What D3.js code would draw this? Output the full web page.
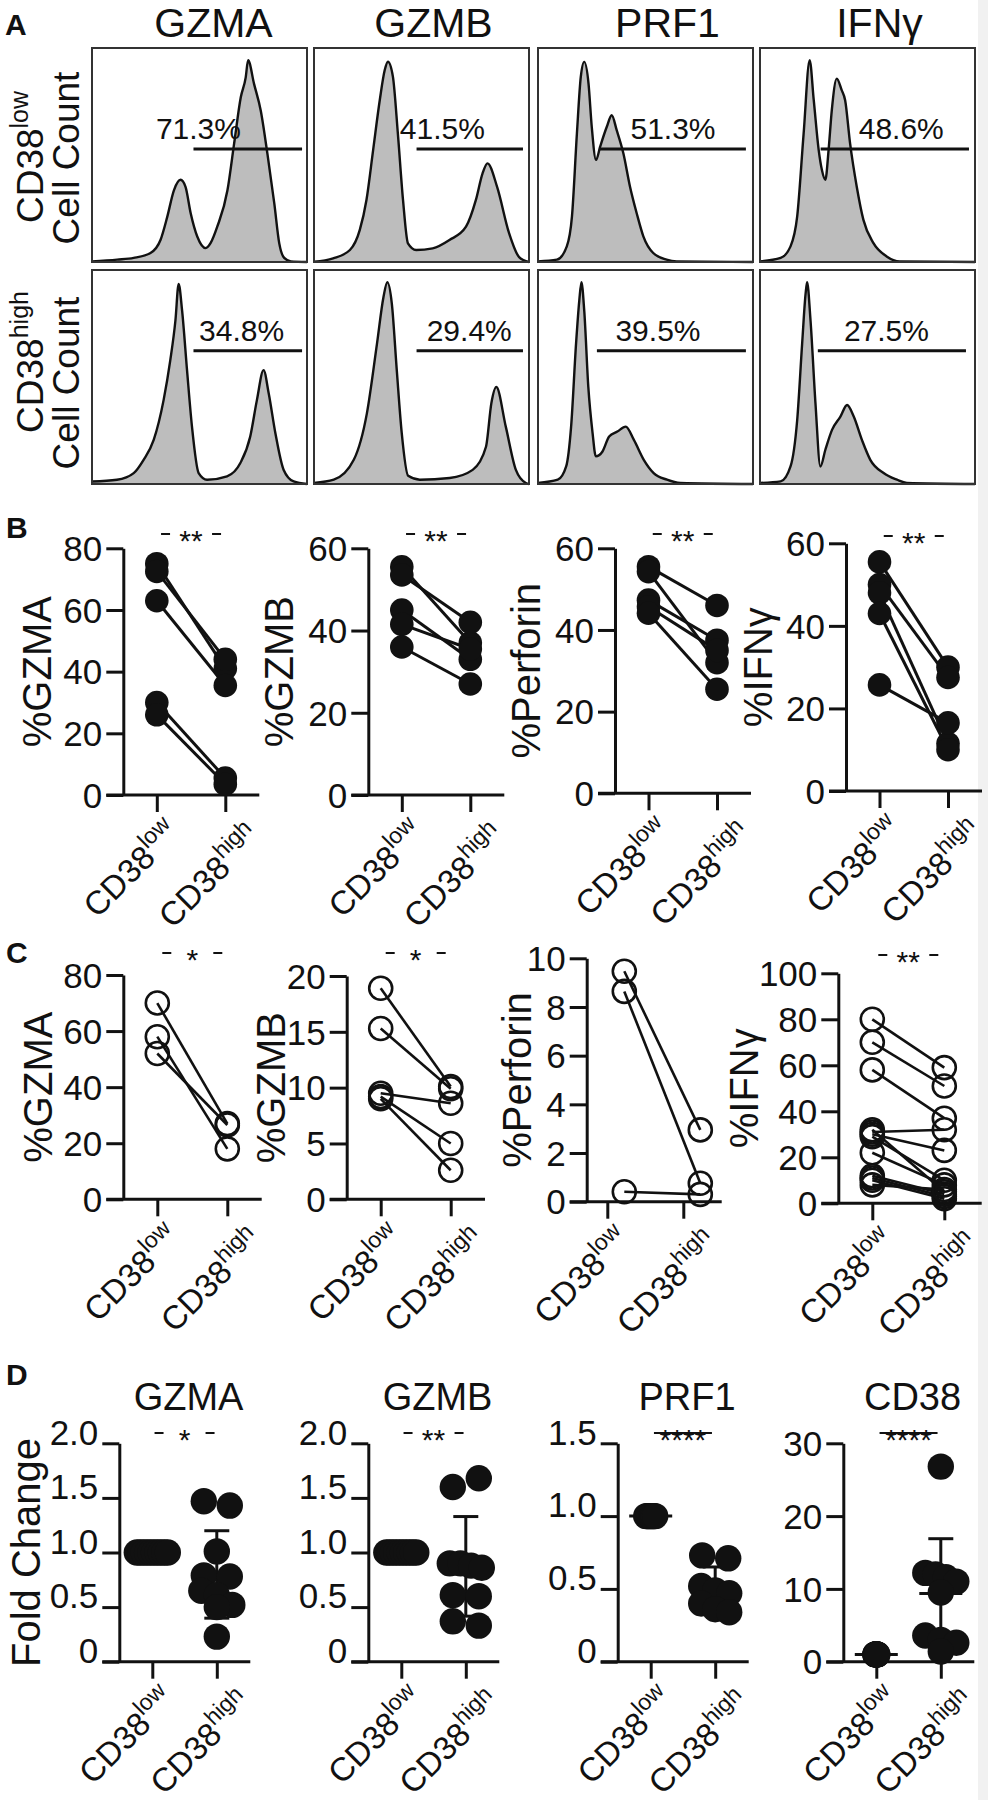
<!DOCTYPE html>
<html>
<head>
<meta charset="utf-8">
<script src="https://cdn.jsdelivr.net/npm/d3@7"></script>
<style>
  body { margin: 0; background: #fff; }
  svg text { font-family: "Liberation Sans", Arial, Helvetica, sans-serif; }
</style>
</head>
<body>
<svg id="fig" width="988" height="1800"></svg>
<script>
// ---------- panel A: histograms ----------
const markers = ["GZMA", "GZMB", "PRF1", "IFNγ"];
const subsets = ["low", "high"];
const gatePctLow = ["71.3%", "41.5%", "51.3%", "48.6%"];
const gatePctHigh = ["34.8%", "29.4%", "39.5%", "27.5%"];
// gate: [start, end, level] in channel units (0-100) / % of max count
const gatesLow = [[47.2, 97.7, 52.8], [47.7, 97.2, 52.8], [28.8, 96.7, 52.8], [28.2, 97.2, 52.8]];
const gatesHigh = [[47.2, 97.7, 62.3], [47.7, 97.2, 62.3], [27.4, 96.7, 62.3], [26.9, 95.8, 62.3]];
const gateLabelXLow = [49.5, 59.7, 62.8, 65.7];
const gateLabelXHigh = [69.6, 72.2, 55.8, 58.8];

// histogram outlines: [channel, % of max count]
const hGzmaLow = [[0,0.3],[11.7,1.1],[19.4,1.9],[27.2,4.2],[31.9,10.4],[35,21.1],[38.1,33.5],[41.2,38.4],[43.5,35.1],[45.9,22.8],[49,11.8],[52.9,6.5],[55.2,8.9],[58.3,16.6],[63,33.5],[66.1,55.3],[69.2,77],[71.5,86.3],[72.6,94.3],[75.4,83.1],[78.5,70.7],[81.6,50.5],[84.8,27.3],[87.1,8.7],[89.4,1.9],[92.5,0.3],[100,0]];
const hGzmbLow = [[0,0.1],[8.9,1.7],[16.7,5.6],[21.3,15],[24.4,29],[27.5,52.3],[30.6,75.7],[32.9,89.7],[34.4,93.6],[36.7,86.6],[39,60.1],[41.4,29],[43.7,8.7],[47.5,5.6],[55.2,6.4],[63,10.3],[70.7,16.5],[75.3,29],[78.4,41.4],[80.7,46.1],[85.2,35],[90.7,13.6],[95.4,2.3],[100,0]];
const hPrf1Low = [[0,0.3],[8.8,1.1],[13.4,7.3],[15.8,21.3],[18.1,60.1],[19.9,86.5],[21.5,93.5],[23.5,83.4],[25,63.2],[27,47.7],[28.9,53.9],[32,63.2],[34.3,68.6],[36.6,61.6],[39.7,50.8],[42.8,35.2],[45.9,22.8],[49,12],[53.6,4.2],[59.8,1.1],[64.5,0.3],[100,0]];
const hIfngLow = [[0,0.3],[9.6,1.9],[14.2,7.3],[17.3,21.3],[20.3,60.1],[23.1,94.3],[25,75.6],[27.3,52.3],[28.8,43],[30.4,38.4],[31.9,52.3],[33.4,71],[35.7,85.7],[38,80.3],[39.6,75.6],[41.9,55.4],[45,35.2],[48.1,19.7],[52.7,8.9],[58.9,2.6],[65,0.3],[100,0]];
const hGzmaHigh = [[0,1.2],[11.6,2],[19.4,5.1],[24,11.3],[28.7,20.6],[33.3,39.2],[36.4,57.8],[38.8,76.4],[40.3,93.5],[41.9,81.1],[44.2,53.2],[46.5,26.8],[49.6,5.1],[53.5,2],[62.8,3.6],[69,9.8],[73.6,22.2],[76.7,39.2],[79.8,53.2],[82.2,42.3],[85.3,23.7],[89.1,6.7],[93.8,1.2],[100,0]];
const hGzmbHigh = [[0,0.5],[9.2,2],[18.5,11.3],[24.6,33],[29.3,65.6],[32.3,87.3],[34.1,94.3],[36.2,84.3],[38.5,53.2],[40.8,23.9],[43.8,3.8],[49.2,2],[63.1,2.8],[73.8,6.6],[80,17.4],[82.5,37.8],[84.8,45.3],[89.2,26.8],[93.9,6.6],[98.5,0.5],[100,0]];
const hPrf1High = [[0,0.5],[9.2,2],[13.1,8.2],[15.4,26.8],[17.7,65.6],[19.2,85.7],[20.2,94.3],[21.5,81.1],[23.4,45.4],[25.4,23.7],[26.9,12.9],[30,15.2],[33.1,22.2],[36.9,24.5],[40.8,26.8],[44.6,20.6],[49.2,11.3],[53.8,5.1],[60,2],[66.2,0.5],[100,0]];
const hIfngHigh = [[0,0.5],[9.6,1.2],[14.2,8.2],[17.3,29.9],[19.6,65.6],[21.2,88.8],[21.9,94.3],[23.5,76.4],[25.8,37.7],[28.1,8.2],[30.4,16],[33.5,25.3],[37.4,31.5],[40.5,36.9],[43.6,31.5],[47.4,20.6],[51.3,11.3],[57.5,5.1],[63.7,2],[68.3,0.5],[100,0]];

// ---------- panel B: paired, [CD38low, CD38high] ----------
const groups = ["low", "high"];
const bLabels = ["%GZMA", "%GZMB", "%Perforin", "%IFNγ"];
const bMax = [80, 60, 60, 60];
const bTicks = [[0,20,40,60,80], [0,20,40,60], [0,20,40,60], [0,20,40,60]];
const bStars = ["**", "**", "**", "**"];
const bGZMA = [[75, 41], [72.5, 44], [63, 35.5], [30, 5.5], [26, 3.5]];
const bGZMB = [[55.5, 37], [53.5, 42], [45, 33], [41.5, 35.5], [36, 27]];
const bPerforin = [[55.5, 46], [54.3, 32], [47.3, 37.5], [45.7, 35], [44.1, 25.5]];
const bIFNg = [[55.5, 30], [50, 27.5], [48, 11.5], [43, 10], [25.7, 16.5]];

// ---------- panel C ----------
const cLabels = ["%GZMA", "%GZMB", "%Perforin", "%IFNγ"];
const cMax = [80, 20, 10, 100];
const cTicks = [[0,20,40,60,80], [0,5,10,15,20], [0,2,4,6,8,10], [0,20,40,60,80,100]];
const cStars = ["*", "*", "", "**"];
const cGZMA = [[70, 27], [58, 18], [52, 26.5]];
const cGZMB = [[18.9, 10.1], [15.3, 9.9], [9.5, 8.6], [9.2, 5], [9.0, 2.6]];
const cPerforin = [[9.47, 2.95], [8.64, 0.76], [0.41, 0.3]];
const cIFNg = [[80, 59], [70, 51], [58, 37], [31, 32], [30, 23], [29, 10], [32, 5], [22, 8], [12, 4], [11, 3], [10, 2], [8, 6]];

// ---------- panel D: fold change ----------
const dTitles = ["GZMA", "GZMB", "PRF1", "CD38"];
const dMax = [2, 2, 1.5, 30];
const dTicks = [[0,0.5,1,1.5,2], [0,0.5,1,1.5,2], [0,0.5,1,1.5], [0,10,20,30]];
const dStars = ["*", "**", "****", "****"];
const dGZMALow = [1, 1, 1, 1, 1, 1, 1, 1, 1, 1];
const dGZMAHigh = [1.47, 1.43, 1.01, 0.79, 0.78, 0.65, 0.61, 0.52, 0.50, 0.23];
const dGZMBLow = [1, 1, 1, 1, 1, 1, 1, 1, 1, 1];
const dGZMBHigh = [1.60, 1.68, 0.90, 0.90, 0.88, 0.86, 0.61, 0.60, 0.37, 0.33];
const dPRF1Low = [1, 1, 1, 1, 1, 1, 1, 1];
const dPRF1High = [0.73, 0.71, 0.52, 0.49, 0.47, 0.40, 0.36, 0.34];
const dCD38Low = [1, 1, 1, 1, 1, 1, 1, 1, 1, 1];
const dCD38High = [26.8, 12.2, 12.0, 11.6, 11.0, 9.5, 3.6, 3.0, 2.6, 1.4];

// ---------- drawing ----------
const INK = "#111";
const FONT = '"Liberation Sans", Arial, Helvetica, sans-serif';
const svg = d3.select("#fig");

svg.append("rect").attr("x", 978).attr("y", 0).attr("width", 10).attr("height", 1800).attr("fill", "#f1f1f1");

function panelLetter(t, x, y) {
  svg.append("text").attr("x", x).attr("y", y).attr("font-size", 30).attr("font-weight", "bold")
    .attr("fill", INK).text(t);
}
panelLetter("A", 5, 35);
panelLetter("B", 6, 538);
panelLetter("C", 6, 963);
panelLetter("D", 6, 1385);

// A
const boxX = [92, 314, 538, 760];
const boxY = [48, 270];
const boxW = 215, boxH = 214;
const titleShift = [14, 12, 22, 12];
const histograms = [[hGzmaLow, hGzmbLow, hPrf1Low, hIfngLow], [hGzmaHigh, hGzmbHigh, hPrf1High, hIfngHigh]];
const gates = [gatesLow, gatesHigh];
const gatePct = [gatePctLow, gatePctHigh];
const gateLabelX = [gateLabelXLow, gateLabelXHigh];

markers.forEach((m, c) => {
  svg.append("text").attr("x", boxX[c] + boxW / 2 + titleShift[c]).attr("y", 37)
    .attr("text-anchor", "middle").attr("font-size", 41).attr("fill", INK).text(m);
});

subsets.forEach((s, r) => {
  markers.forEach((m, c) => {
    const g = svg.append("g").attr("transform", `translate(${boxX[c]},${boxY[r]})`);
    const x = d3.scaleLinear().domain([0, 100]).range([0, boxW]);
    const y = d3.scaleLinear().domain([0, 100]).range([boxH, 0]);
    const pts = histograms[r][c];
    g.append("path").datum(pts)
      .attr("d", d3.area().x(d => x(d[0])).y0(boxH).y1(d => y(d[1])).curve(d3.curveMonotoneX))
      .attr("fill", "#bdbdbd");
    g.append("path").datum(pts)
      .attr("d", d3.line().x(d => x(d[0])).y(d => y(d[1])).curve(d3.curveMonotoneX))
      .attr("fill", "none").attr("stroke", INK).attr("stroke-width", 2.4);
    g.append("rect").attr("width", boxW).attr("height", boxH)
      .attr("fill", "none").attr("stroke", "#333").attr("stroke-width", 2);
    const gt = gates[r][c];
    g.append("line").attr("x1", x(gt[0])).attr("x2", x(gt[1])).attr("y1", y(gt[2])).attr("y2", y(gt[2]))
      .attr("stroke", INK).attr("stroke-width", 3);
    g.append("text").attr("x", x(gateLabelX[r][c])).attr("y", y(gt[2]) - 10)
      .attr("text-anchor", "middle").attr("font-size", 30).attr("fill", INK).text(gatePct[r][c]);
  });
});

function rowLabel(sup, cy1, cy2) {
  const t = svg.append("text").attr("transform", `translate(43,${cy1}) rotate(-90)`)
    .attr("text-anchor", "middle").attr("font-size", 37).attr("fill", INK);
  t.append("tspan").text("CD38");
  t.append("tspan").attr("font-size", 25).attr("dy", -15).text(sup);
  svg.append("text").attr("transform", `translate(79,${cy2}) rotate(-90)`)
    .attr("text-anchor", "middle").attr("font-size", 37).attr("fill", INK).text("Cell Count");
}
rowLabel("low", 157, 158);
rowLabel("high", 362, 383);

// shared frame for B, C, D
const xLabOff = { low: [24, 40], high: [37, 44] };

function styleAxis(g) {
  g.attr("font-family", FONT);
  g.selectAll("path, line").attr("stroke", INK).attr("stroke-width", 3);
}

function drawFrame(o) {
  const y = d3.scaleLinear().domain([0, o.max]).range([o.bottom, o.top]);
  const x = d3.scalePoint().domain(groups).range([o.X + o.cat[0], o.X + o.cat[1]]);
  const ya = svg.append("g").attr("transform", `translate(${o.X},0)`)
    .call(d3.axisLeft(y).tickValues(o.ticks).tickSize(17).tickSizeOuter(0).tickPadding(4).tickFormat(o.fmt));
  styleAxis(ya);
  ya.selectAll(".tick text").attr("font-size", 35).attr("fill", INK).attr("dy", o.tickDy);
  svg.append("line").attr("x1", o.X - 17).attr("x2", o.X + o.xEnd).attr("y1", o.bottom).attr("y2", o.bottom)
    .attr("stroke", INK).attr("stroke-width", 3);
  const xa = svg.append("g").attr("transform", `translate(0,${o.bottom})`)
    .call(d3.axisBottom(x).tickSize(17).tickSizeOuter(0).tickFormat(""));
  xa.select(".domain").remove();
  styleAxis(xa);
  xa.selectAll(".tick").append("text")
    .attr("transform", d => `translate(${xLabOff[d][0]},${xLabOff[d][1]}) rotate(-45)`)
    .attr("text-anchor", "end").attr("font-size", 33).attr("fill", INK)
    .each(function (d) {
      const t = d3.select(this);
      t.append("tspan").text("CD38");
      t.append("tspan").attr("font-size", 23).attr("dy", -14).text(d);
    });
  if (o.label) {
    svg.append("text").attr("transform", `translate(${o.X + o.labelDx},${(o.top + o.bottom) / 2}) rotate(-90)`)
      .attr("text-anchor", "middle").attr("font-size", 40).attr("fill", INK).text(o.label);
  }
  return { x, y };
}

function sigBar(mid, yy, stars, through) {
  if (!stars) return;
  const fs = 30;
  if (through) {
    svg.append("line").attr("x1", mid - 29).attr("x2", mid + 29).attr("y1", yy).attr("y2", yy)
      .attr("stroke", INK).attr("stroke-width", 2);
  } else {
    [[-30, -21], [21, 30]].forEach(s => {
      svg.append("line").attr("x1", mid + s[0]).attr("x2", mid + s[1]).attr("y1", yy).attr("y2", yy)
        .attr("stroke", INK).attr("stroke-width", 2);
    });
  }
  svg.append("text").attr("x", mid).attr("y", yy + 0.575 * fs).attr("text-anchor", "middle")
    .attr("font-size", fs).attr("fill", INK).text(stars);
}

const intFmt = d3.format("d");

// B
const layoutB = {
  X: [123.3, 368.3, 615, 846], top: [548.3, 548.3, 548.3, 543.3], bottom: [795, 795, 793.3, 791],
  labelDx: [-72, -75, -75, -74], starY: [534, 534, 534, 536]
};
[bGZMA, bGZMB, bPerforin, bIFNg].forEach((pairs, i) => {
  const { x, y } = drawFrame({
    X: layoutB.X[i], top: layoutB.top[i], bottom: layoutB.bottom[i], max: bMax[i], ticks: bTicks[i],
    cat: [33.5, 102], xEnd: 136, fmt: intFmt, tickDy: "0.35em", label: bLabels[i], labelDx: layoutB.labelDx[i]
  });
  const g = svg.append("g");
  g.selectAll("line.pair").data(pairs).join("line")
    .attr("x1", x("low")).attr("x2", x("high")).attr("y1", d => y(d[0])).attr("y2", d => y(d[1]))
    .attr("stroke", INK).attr("stroke-width", 3);
  pairs.forEach(p => {
    groups.forEach((grp, k) => {
      g.append("circle").attr("cx", x(grp)).attr("cy", y(p[k])).attr("r", 11.8).attr("fill", INK);
    });
  });
  sigBar((x("low") + x("high")) / 2, layoutB.starY[i], bStars[i], false);
});

// C
const layoutC = {
  X: [123.3, 346.7, 586.7, 838.3], top: [975, 976, 958.3, 973.3], bottom: [1199.3, 1199.3, 1201.7, 1203.3],
  cat: [[34, 104], [34, 104], [20.6, 96.6], [34, 106]], xEnd: [138.4, 138.3, 135, 143.4],
  pointShift: [0, 0, 17, 0], labelDx: [-71, -62, -56, -80], starY: [953, 953, 953, 955]
};
[cGZMA, cGZMB, cPerforin, cIFNg].forEach((pairs, i) => {
  const { x, y } = drawFrame({
    X: layoutC.X[i], top: layoutC.top[i], bottom: layoutC.bottom[i], max: cMax[i], ticks: cTicks[i],
    cat: layoutC.cat[i], xEnd: layoutC.xEnd[i], fmt: intFmt, tickDy: "0.35em", label: cLabels[i], labelDx: layoutC.labelDx[i]
  });
  const sh = layoutC.pointShift[i];
  const g = svg.append("g");
  g.selectAll("line.pair").data(pairs).join("line")
    .attr("x1", x("low") + sh).attr("x2", x("high") + sh).attr("y1", d => y(d[0])).attr("y2", d => y(d[1]))
    .attr("stroke", INK).attr("stroke-width", 2.6);
  pairs.forEach(p => {
    groups.forEach((grp, k) => {
      g.append("circle").attr("cx", x(grp) + sh).attr("cy", y(p[k])).attr("r", 11.5)
        .attr("fill", "none").attr("stroke", INK).attr("stroke-width", 2.6);
    });
  });
  sigBar((x("low") + x("high")) / 2, layoutC.starY[i], cStars[i], false);
});

// D
function dodge(values, y, r, maxSpan) {
  const order = values.map((v, i) => i).sort((a, b) => values[b] - values[a] || a - b);
  const off = values.map(() => 0);
  let grp = [];
  const flush = () => {
    const n = grp.length;
    const span = Math.min((n - 1) * 2 * r, maxSpan);
    grp.slice().sort((a, b) => a - b).forEach((idx, k) => {
      off[idx] = n > 1 ? -span / 2 + span * k / (n - 1) : 0;
    });
    grp = [];
  };
  order.forEach(i => {
    if (grp.length && Math.abs(y(values[grp[0]]) - y(values[i])) > r * 1.15) flush();
    grp.push(i);
  });
  flush();
  return off;
}

const layoutD = {
  X: [119.3, 368.3, 617.7, 843.3], top: 1443.3, bottom: 1661.7,
  tickDy: ["0.02em", "0.02em", "0.02em", "0.35em"], spread: [[31, 31], [30, 32], [9, 28], [2, 31]]
};
const dLow = [dGZMALow, dGZMBLow, dPRF1Low, dCD38Low];
const dHigh = [dGZMAHigh, dGZMBHigh, dPRF1High, dCD38High];
const decFmt = v => v === 0 ? "0" : d3.format(".1f")(v);
dTitles.forEach((title, i) => {
  const { x, y } = drawFrame({
    X: layoutD.X[i], top: layoutD.top, bottom: layoutD.bottom, max: dMax[i], ticks: dTicks[i],
    cat: [33, 97.5], xEnd: 131, fmt: i < 3 ? decFmt : intFmt, tickDy: layoutD.tickDy[i],
    label: i === 0 ? "Fold Change" : null, labelDx: -79
  });
  const mid = (x("low") + x("high")) / 2;
  svg.append("text").attr("x", mid + 4).attr("y", 1410).attr("text-anchor", "middle")
    .attr("font-size", 38).attr("fill", INK).text(title);
  const g = svg.append("g");
  [dLow[i], dHigh[i]].forEach((vals, gi) => {
    const cx = x(groups[gi]);
    const m = d3.mean(vals);
    const sd = d3.deviation(vals) || 0;
    if (sd > 0) {
      g.append("line").attr("x1", cx).attr("x2", cx).attr("y1", y(m - sd)).attr("y2", y(m + sd))
        .attr("stroke", INK).attr("stroke-width", 3);
      [m - sd, m + sd].forEach(v => {
        g.append("line").attr("x1", cx - 12.5).attr("x2", cx + 12.5).attr("y1", y(v)).attr("y2", y(v))
          .attr("stroke", INK).attr("stroke-width", 3);
      });
    }
    g.append("line").attr("x1", cx - 21.5).attr("x2", cx + 21.5).attr("y1", y(m)).attr("y2", y(m))
      .attr("stroke", INK).attr("stroke-width", 3);
    const off = dodge(vals, y, 13, layoutD.spread[i][gi]);
    g.selectAll(null).data(vals).join("circle")
      .attr("cx", (d, k) => cx + off[k]).attr("cy", d => y(d)).attr("r", 13.2).attr("fill", INK);
  });
  sigBar(mid, 1433, dStars[i], i >= 2);
});
</script>
</body>
</html>
